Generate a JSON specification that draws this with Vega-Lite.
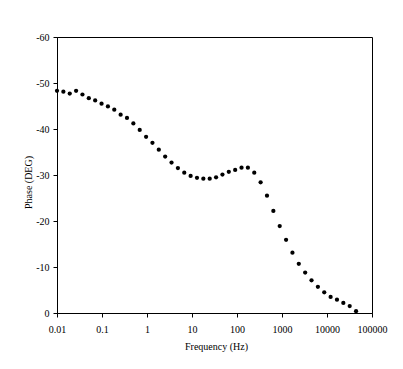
{
  "$schema": "https://vega.github.io/schema/vega-lite/v6.json",
  "width": 315,
  "height": 276,
  "autosize": {"type": "none"},
  "padding": {"left": 57, "top": 37, "right": 31, "bottom": 56},
  "background": "white",
  "config": {
    "view": {"stroke": "black", "strokeWidth": 1},
    "font": "Liberation Serif",
    "axis": {
      "grid": false,
      "domainColor": "black",
      "tickColor": "black",
      "labelColor": "black",
      "titleColor": "black",
      "labelFont": "Liberation Serif",
      "titleFont": "Liberation Serif",
      "labelFontSize": 10,
      "titleFontSize": 10,
      "titleFontWeight": "normal",
      "tickSize": 4,
      "labelFlush": false,
      "labelOverlap": false
    }
  },
  "data": {
    "values": [
      {"freq": 0.01, "phase": -48.3},
      {"freq": 0.01385, "phase": -48.1},
      {"freq": 0.01918, "phase": -47.7},
      {"freq": 0.02656, "phase": -48.3},
      {"freq": 0.03678, "phase": -47.5},
      {"freq": 0.05093, "phase": -46.7},
      {"freq": 0.07054, "phase": -46.2},
      {"freq": 0.0977, "phase": -45.5},
      {"freq": 0.1353, "phase": -44.9},
      {"freq": 0.1874, "phase": -44.2},
      {"freq": 0.2594, "phase": -43.1},
      {"freq": 0.3593, "phase": -42.4},
      {"freq": 0.4976, "phase": -41.2},
      {"freq": 0.689, "phase": -39.8},
      {"freq": 0.954, "phase": -38.3},
      {"freq": 1.321, "phase": -37.0},
      {"freq": 1.829, "phase": -35.5},
      {"freq": 2.533, "phase": -34.0},
      {"freq": 3.509, "phase": -32.7},
      {"freq": 4.86, "phase": -31.5},
      {"freq": 6.73, "phase": -30.5},
      {"freq": 9.32, "phase": -29.8},
      {"freq": 12.91, "phase": -29.4},
      {"freq": 17.87, "phase": -29.2},
      {"freq": 24.75, "phase": -29.2},
      {"freq": 34.28, "phase": -29.5},
      {"freq": 47.48, "phase": -30.1},
      {"freq": 65.75, "phase": -30.7},
      {"freq": 91.05, "phase": -31.1},
      {"freq": 126.1, "phase": -31.6},
      {"freq": 174.6, "phase": -31.6},
      {"freq": 241.8, "phase": -30.5},
      {"freq": 334.9, "phase": -28.4},
      {"freq": 463.8, "phase": -25.5},
      {"freq": 642.3, "phase": -22.2},
      {"freq": 889.5, "phase": -18.9},
      {"freq": 1231.8, "phase": -15.9},
      {"freq": 1705.9, "phase": -13.1},
      {"freq": 2362, "phase": -10.7},
      {"freq": 3271, "phase": -8.8},
      {"freq": 4529, "phase": -7.1},
      {"freq": 6273, "phase": -5.7},
      {"freq": 8686, "phase": -4.5},
      {"freq": 12030, "phase": -3.5},
      {"freq": 16660, "phase": -2.9},
      {"freq": 23070, "phase": -2.2},
      {"freq": 31950, "phase": -1.5},
      {"freq": 44250, "phase": -0.4}
    ]
  },
  "mark": {"type": "point", "shape": "circle", "filled": true, "color": "black", "opacity": 1, "size": 18},
  "encoding": {
    "x": {
      "field": "freq",
      "type": "quantitative",
      "scale": {"type": "log", "domain": [0.01, 100000], "nice": false},
      "axis": {
        "title": "Frequency (Hz)",
        "values": [0.01, 0.1, 1, 10, 100, 1000, 10000, 100000],
        "labelExpr": "datum.value < 1 ? format(datum.value, '.2~f') : format(datum.value, 'd')",
        "labelPadding": 7,
        "titleX": 159,
        "titleY": 33,
        "titleBaseline": "middle"
      }
    },
    "y": {
      "field": "phase",
      "type": "quantitative",
      "scale": {"domain": [0, -60], "nice": false, "zero": false},
      "axis": {
        "title": "Phase (DEG)",
        "values": [0, -10, -20, -30, -40, -50, -60],
        "labelExpr": "'' + datum.value",
        "labelPadding": 4,
        "titleX": -29,
        "titleY": 145,
        "titleAngle": -90,
        "titleBaseline": "middle",
        "titleAlign": "center"
      }
    }
  }
}
